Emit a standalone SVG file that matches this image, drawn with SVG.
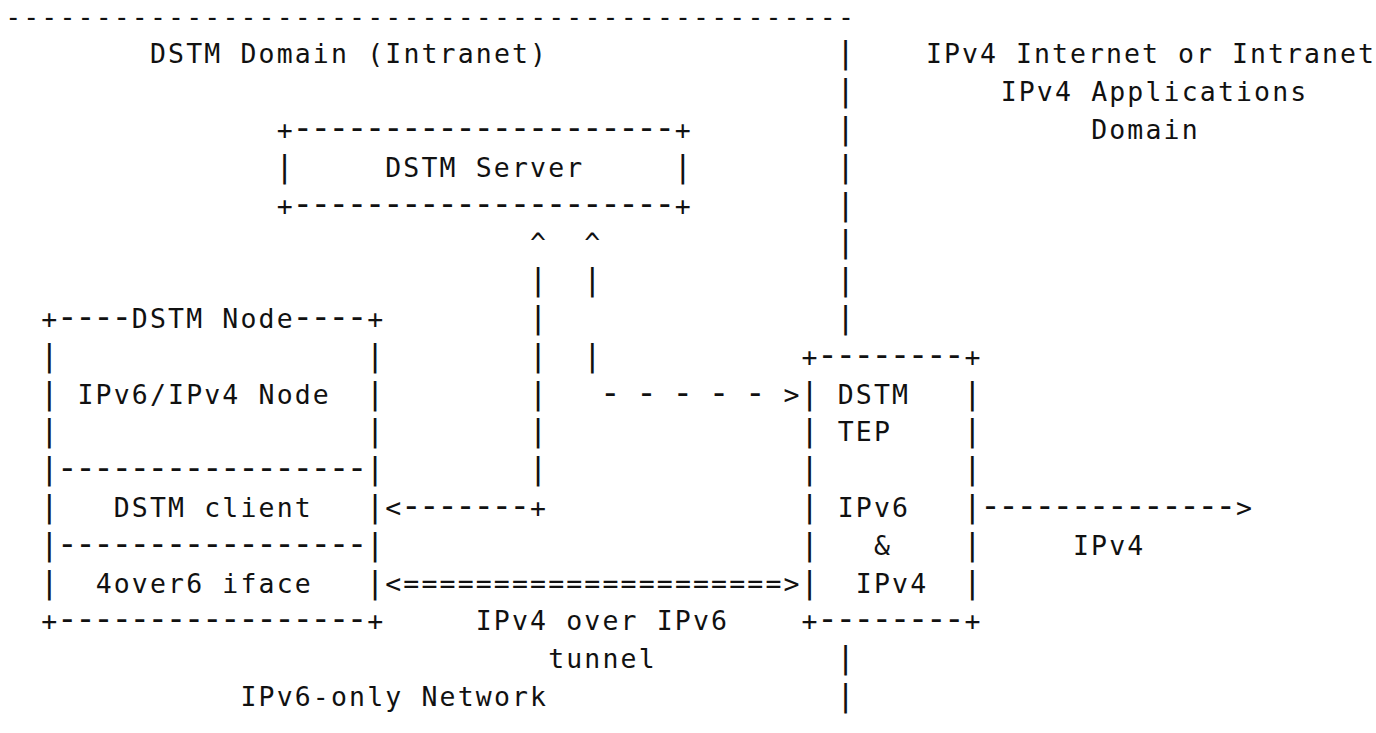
<svg xmlns="http://www.w3.org/2000/svg" width="1376" height="733" viewBox="0 0 1376 733">
<style>
text{font-family:"DejaVu Sans Mono","Liberation Mono",monospace;font-size:26.5px;letter-spacing:2.15px;fill:#111}
text.d{font-size:35px;letter-spacing:-2.97px}
text.v{font-size:31px;letter-spacing:0}
</style>
<rect width="1376" height="733" fill="#fff"/>
<g id="domain-boundary">
<text x="5.13" y="25.5">-----------------------------------------------</text>
<text class="v" x="836.37" y="63.3">|</text>
<text class="v" x="836.37" y="101.1">|</text>
<text class="v" x="836.37" y="138.9">|</text>
<text class="v" x="836.37" y="176.7">|</text>
<text class="v" x="836.37" y="214.5">|</text>
<text class="v" x="836.37" y="252.3">|</text>
<text class="v" x="836.37" y="290.1">|</text>
<text class="v" x="836.37" y="327.9">|</text>
<text class="v" x="836.37" y="668.1">|</text>
<text class="v" x="836.37" y="705.9">|</text>
</g>
<g id="domain-labels">
<text x="149.93" y="63.3">DSTM Domain (Intranet)</text>
<text x="926" y="63.3" style="letter-spacing:2.05px">IPv4 Internet or Intranet</text>
<text x="1000.63" y="101.1">IPv4 Applications</text>
<text x="1091.13" y="138.9">Domain</text>
<text x="240.43" y="705.9">IPv6-only Network</text>
</g>
<g id="dstm-server">
<text x="276.63" y="138.9">+</text><text class="d" x="292.16" y="138.9">---------------------</text><text x="674.83" y="138.9">+</text>
<text class="v" x="275.27" y="176.7">|</text>
<text x="385.23" y="176.7">DSTM Server</text>
<text class="v" x="673.47" y="176.7">|</text>
<text x="276.63" y="214.5">+</text><text class="d" x="292.16" y="214.5">---------------------</text><text x="674.83" y="214.5">+</text>
</g>
<g id="dstm-node">
<text x="41.33" y="327.9">+</text><text class="d" x="56.86" y="327.9">----</text><text x="131.83" y="327.9">DSTM Node</text><text class="d" x="292.16" y="327.9">----</text><text x="367.13" y="327.9">+</text>
<text class="v" x="39.97" y="365.7">|</text><text class="v" x="365.77" y="365.7">|</text>
<text class="v" x="39.97" y="403.5">|</text><text x="77.53" y="403.5">IPv6/IPv4 Node</text><text class="v" x="365.77" y="403.5">|</text>
<text class="v" x="39.97" y="441.3">|</text><text class="v" x="365.77" y="441.3">|</text>
<text class="v" x="39.97" y="479.1">|</text><text class="d" x="56.86" y="479.1">-----------------</text><text class="v" x="365.77" y="479.1">|</text>
<text class="v" x="39.97" y="516.9">|</text><text x="113.73" y="516.9">DSTM client</text><text class="v" x="365.77" y="516.9">|</text>
<text class="v" x="39.97" y="554.7">|</text><text class="d" x="56.86" y="554.7">-----------------</text><text class="v" x="365.77" y="554.7">|</text>
<text class="v" x="39.97" y="592.5">|</text><text x="95.63" y="592.5">4over6 iface</text><text class="v" x="365.77" y="592.5">|</text>
<text x="41.33" y="630.3">+</text><text class="d" x="56.86" y="630.3">-----------------</text><text x="367.13" y="630.3">+</text>
</g>
<g id="dstm-tep">
<text x="801.53" y="365.7">+</text><text class="d" x="817.06" y="365.7">--------</text><text x="964.43" y="365.7">+</text>
<text class="v" x="800.17" y="403.5">|</text><text x="837.73" y="403.5">DSTM</text><text class="v" x="963.07" y="403.5">|</text>
<text class="v" x="800.17" y="441.3">|</text><text x="837.73" y="441.3">TEP</text><text class="v" x="963.07" y="441.3">|</text>
<text class="v" x="800.17" y="479.1">|</text><text class="v" x="963.07" y="479.1">|</text>
<text class="v" x="800.17" y="516.9">|</text><text x="837.73" y="516.9">IPv6</text><text class="v" x="963.07" y="516.9">|</text>
<text class="v" x="800.17" y="554.7">|</text><text x="873.93" y="554.7">&amp;</text><text class="v" x="963.07" y="554.7">|</text>
<text class="v" x="800.17" y="592.5">|</text><text x="855.83" y="592.5">IPv4</text><text class="v" x="963.07" y="592.5">|</text>
<text x="801.53" y="630.3">+</text><text class="d" x="817.06" y="630.3">--------</text><text x="964.43" y="630.3">+</text>
</g>
<g id="connectors">
<text x="530.03" y="252.3">^</text><text x="584.33" y="252.3">^</text>
<text class="v" x="528.67" y="290.1">|</text><text class="v" x="582.97" y="290.1">|</text>
<text class="v" x="528.67" y="327.9">|</text>
<text class="v" x="528.67" y="365.7">|</text><text class="v" x="582.97" y="365.7">|</text>
<text class="v" x="528.67" y="403.5">|</text>
<text class="d" x="599.86" y="403.5">- - - - -</text><text x="783.43" y="403.5">&gt;</text>
<text class="v" x="528.67" y="441.3">|</text>
<text class="v" x="528.67" y="479.1">|</text>
<text x="385.23" y="516.9">&lt;</text><text class="d" x="400.76" y="516.9">-------</text><text x="530.03" y="516.9">+</text>
<text x="385.23" y="592.5">&lt;=====================&gt;</text>
<text x="475.73" y="630.3">IPv4 over IPv6</text>
<text x="548.13" y="668.1">tunnel</text>
<text class="d" x="979.96" y="516.9">--------------</text><text x="1235.93" y="516.9">&gt;</text>
<text x="1073.03" y="554.7">IPv4</text>
</g>
</svg>
